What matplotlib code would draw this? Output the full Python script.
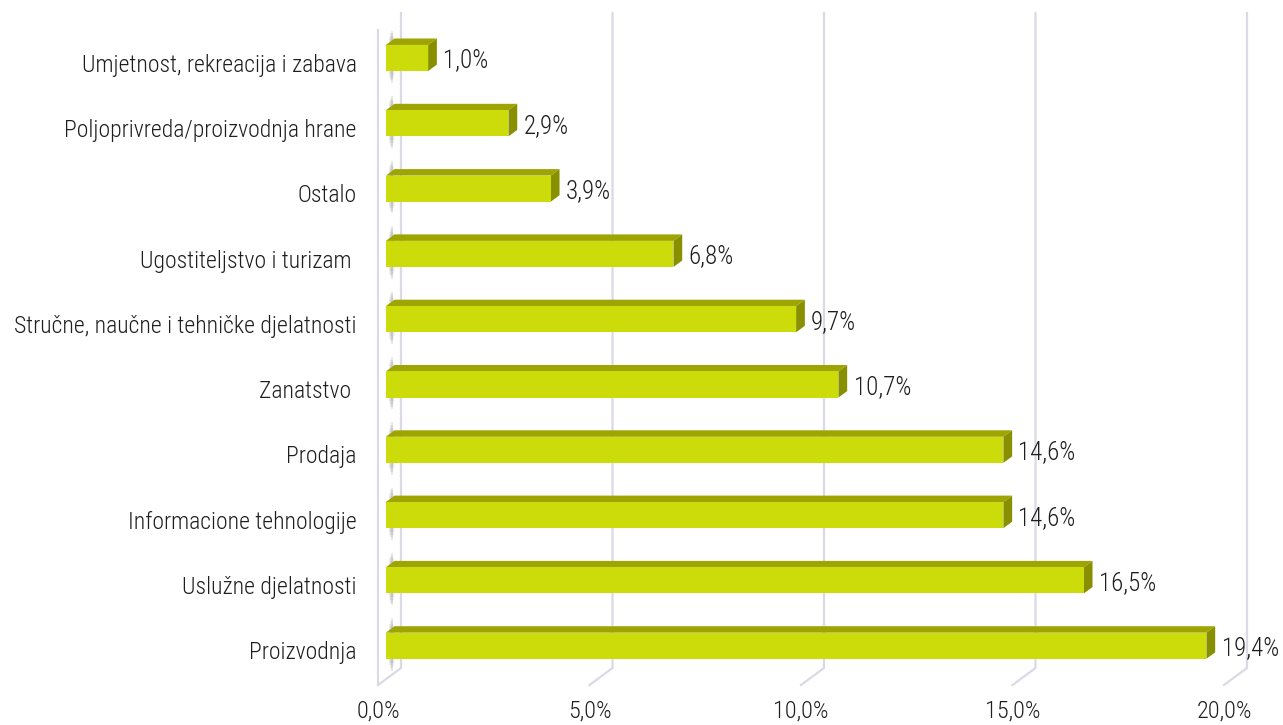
import matplotlib.pyplot as plt
from matplotlib.patches import Polygon, Rectangle
import matplotlib.font_manager as fm

# podaci (od vrha prema dnu)
kategorije = ['Umjetnost, rekreacija i zabava', 'Poljoprivreda/proizvodnja hrane', 'Ostalo',
              'Ugostiteljstvo i turizam ', 'Stručne, naučne i tehničke djelatnosti', 'Zanatstvo ',
              'Prodaja', 'Informacione tehnologije', 'Uslužne djelatnosti', 'Proizvodnja']
vrijednosti = [1.0, 2.9, 3.9, 6.8, 9.7, 10.7, 14.6, 14.6, 16.5, 19.4]
oznake = ['1,0%', '2,9%', '3,9%', '6,8%', '9,7%', '10,7%', '14,6%', '14,6%', '16,5%', '19,4%']
x_ticks = [0, 5, 10, 15, 20]
x_tick_labels = ['0,0%', '5,0%', '10,0%', '15,0%', '20,0%']

# font - uzak ako postoji
font, fs_kat, fs_br = 'Roboto', 15, 16
for f in fm.fontManager.ttflist:
    if f.name in ('Roboto Condensed', 'Liberation Sans Narrow'):
        font, fs_kat, fs_br = f.name, 17, 18
        break
plt.rcParams['font.family'] = [font, 'DejaVu Sans']
tekst = dict(color='#1E1E1E', fontweight='light')

W, H = 1283, 725
fig = plt.figure(figsize=(W / 100, H / 100), dpi=100)
ax = fig.add_axes([0, 0, 1, 1])

# skala: px = x0 + sx*x, py = y0 + sy*i
x0, sx = 378, 42.3
y0, sy = 63.8, 65.3
ax.set_xlim(-x0 / sx, (W - x0) / sx)
ax.set_ylim((H - y0) / sy, -y0 / sy)
ax.axis('off')

# 3D pomak po dubini (z od 0 do 1)
DX = 23 / sx
DY = -17 / sy


def p(x, y, z):
    return (x + z * DX, y + z * DY)


y_top = (30 - y0) / sy
y_floor = (685 - y0) / sy
grid_c = '#D9DAE5'

# lijevi zid
ax.plot(*zip(p(0, y_top, 0), p(0, y_floor, 0)), color=grid_c, lw=1.5, zorder=1)

# mreža na zadnjem zidu i podu
for t in x_ticks:
    pts = [p(t, y_top, 1), p(t, y_floor, 1), p(t, y_floor, 0)]
    ax.plot(*zip(*pts), color=grid_c, lw=1.6, zorder=1, solid_joinstyle='miter')

for t, lab in zip(x_ticks, x_tick_labels):
    ax.text(t, (711 - y0) / sy, lab, ha='center', va='center', fontsize=fs_br - 0.5, **tekst)

zb0, zb1 = 0.34, 0.72
hh = 0.2
front_c, top_c, side_c = '#CCDC0A', '#9EA502', '#889000'

for i, (kat, v, lab) in enumerate(zip(kategorije, vrijednosti, oznake)):
    # sjena na lijevom zidu (zamućena okomita traka)
    y_a = i - hh + zb0 * DY - 0.22
    y_b = i + hh + zb0 * DY + 0.18
    xc = 0.6 * DX
    for k, a in enumerate([0.06, 0.08, 0.11, 0.14]):
        w = (4 - k) * 1.6 / sx
        d = (3 - k) * 0.04
        ax.add_patch(Rectangle((xc - w / 2, y_a + d), w, (y_b - y_a) - 2 * d,
                               facecolor='#555555', alpha=a, lw=0, zorder=2))
    # prednja strana
    ax.add_patch(Polygon([p(0, i - hh, zb0), p(v, i - hh, zb0), p(v, i + hh, zb0), p(0, i + hh, zb0)],
                         closed=True, facecolor=front_c, lw=0, zorder=4))
    # gornja strana
    ax.add_patch(Polygon([p(0, i - hh, zb0), p(v, i - hh, zb0), p(v, i - hh, zb1), p(0, i - hh, zb1)],
                         closed=True, facecolor=top_c, lw=0, zorder=3))
    # bočna strana
    ax.add_patch(Polygon([p(v, i - hh, zb0), p(v, i + hh, zb0), p(v, i + hh, zb1), p(v, i - hh, zb1)],
                         closed=True, facecolor=side_c, lw=0, zorder=3))
    ax.text(v + zb1 * DX + 0.15, i - 0.05, lab, ha='left', va='center', fontsize=fs_br, **tekst)
    ax.text(-0.5, i + 0.02, kat, ha='right', va='center', fontsize=fs_kat, **tekst)

fig.savefig('out.png', dpi=100)
